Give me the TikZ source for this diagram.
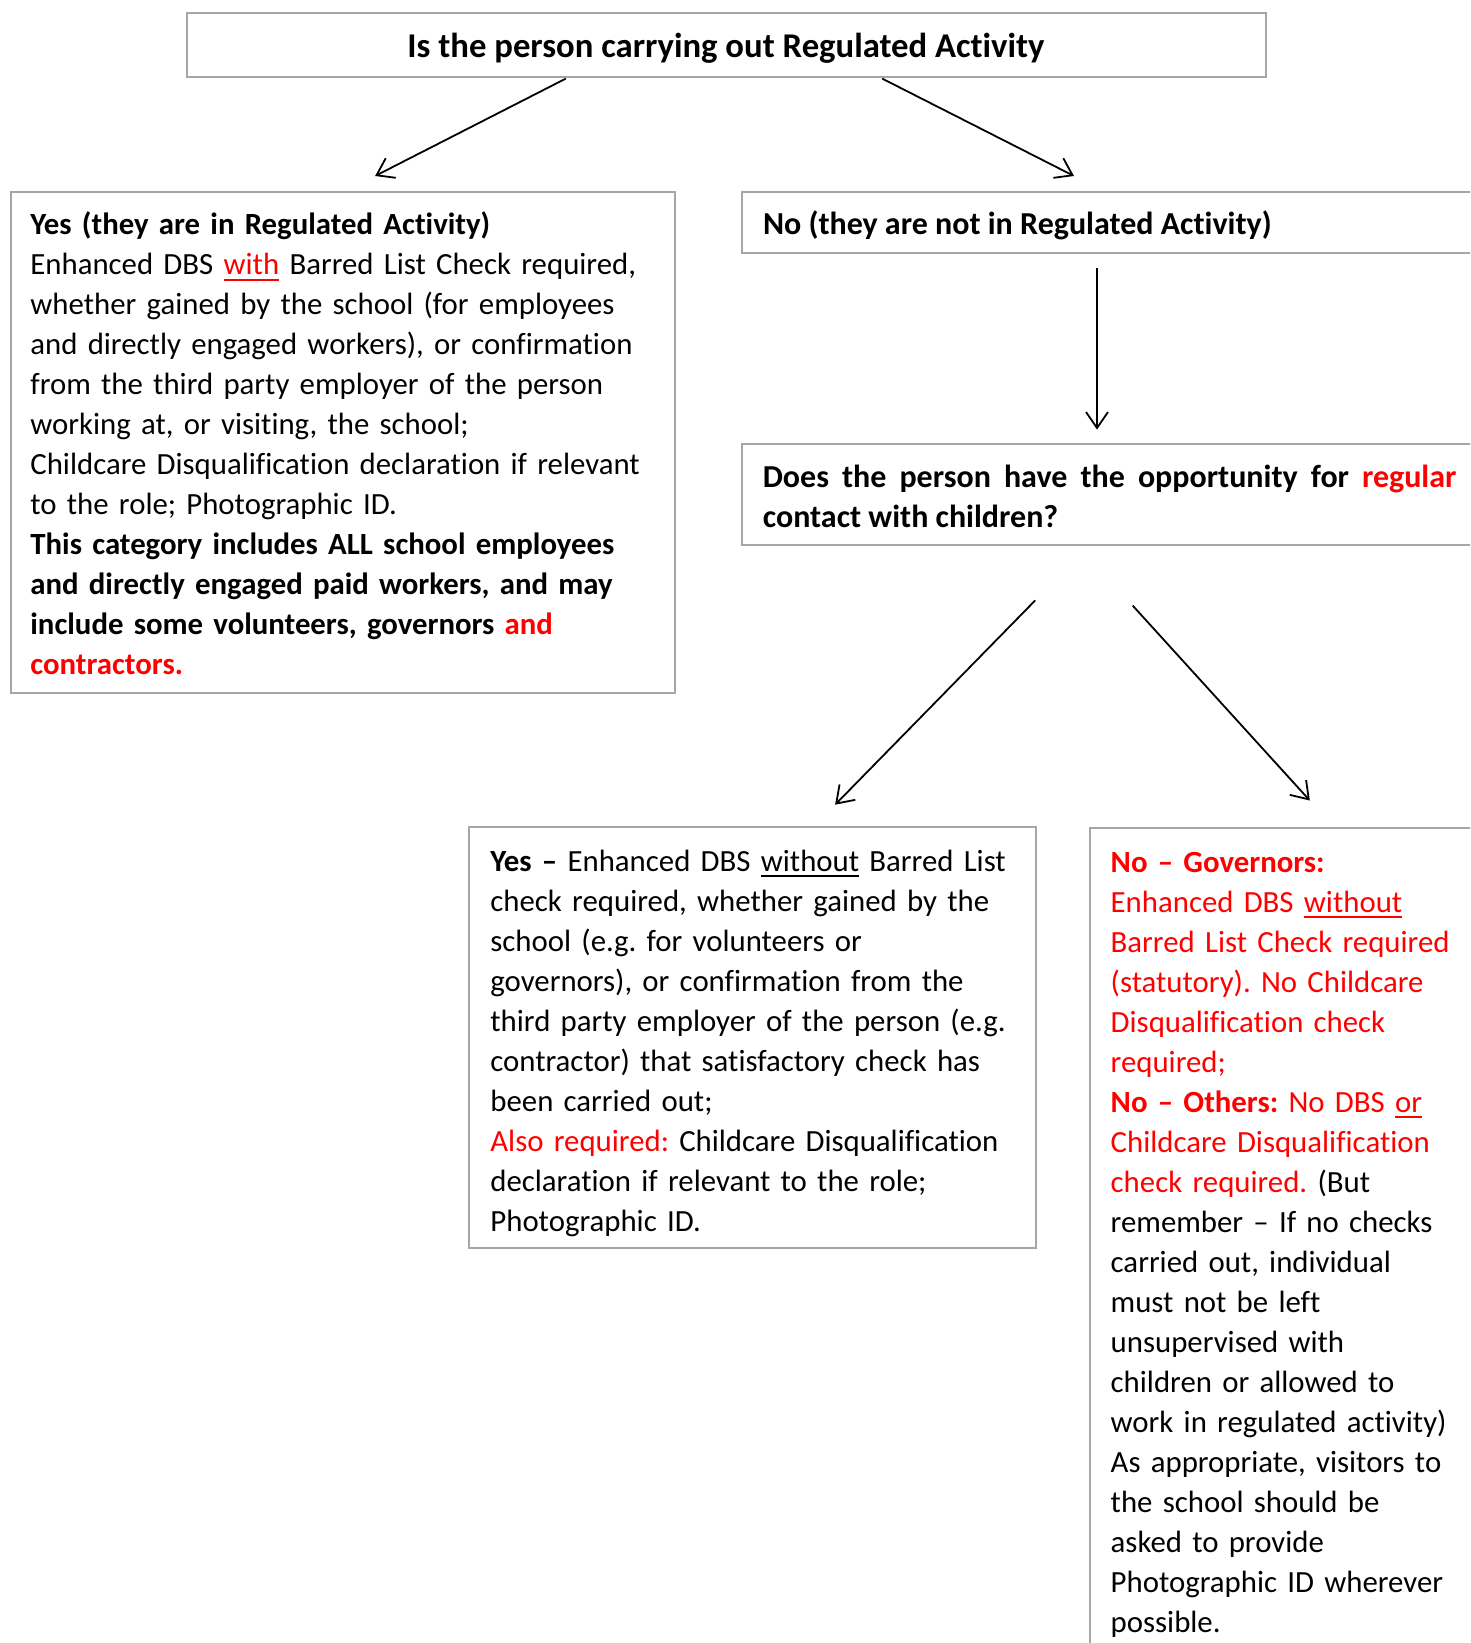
\documentclass[tikz,border=0pt]{standalone}
\usepackage{fontspec}
\setmainfont[Ligatures={TeX,NoCommon}]{Carlito}
\usetikzlibrary{arrows.meta}
\definecolor{boxgray}{HTML}{A6A6A6}
\definecolor{myred}{HTML}{FF0000}
\newcommand\myul[1]{\setbox0\hbox{#1}\rlap{\rule[-6pt]{\wd0}{2pt}}\box0\relax}
\newcommand\R[1]{\textcolor{myred}{#1}}
\frenchspacing
\tikzset{
  boxnode/.style={draw=boxgray, line width=2pt, rectangle, inner sep=0pt, outer sep=0pt, anchor=north west},
  txt/.style={inner sep=0pt, outer sep=0pt, anchor=north west, align=left, text width=#1, font=\fontsize{30.8}{40}\selectfont\frenchspacing},
  conn/.style={line width=1.8pt, -{Straight Barb[length=16pt,width=22pt,line width=1.8pt]}},
}
\begin{document}
\begin{tikzpicture}[x=1pt,y=-1pt]
\useasboundingbox (0,0) rectangle (1470,1643);
\clip (0,0) rectangle (1470,1643);
% boxes
\node[boxnode, minimum width=1079pt, minimum height=64pt] (top) at (186.5,12.6) {};
\node[boxnode, minimum width=664pt, minimum height=501pt] (yesA) at (10.5,191.7) {};
\node[boxnode, minimum width=740pt, minimum height=61pt] (noA) at (742,191.7) {};
\node[boxnode, minimum width=740pt, minimum height=101pt] (does) at (742,444.3) {};
\node[boxnode, minimum width=567pt, minimum height=421pt] (yesB) at (469.4,826.7) {};
\node[boxnode, minimum width=400pt, minimum height=840pt] (noB) at (1089.7,827.8) {};
% texts
\node[inner sep=0pt, anchor=base, font=\fontsize{34.7}{40}\selectfont\bfseries] (toptext) at (726,58) {Is the person carrying out Regulated Activity};
\node[txt=700pt] (yesAtext) at (30.4,204.5) {\rule{0pt}{30pt}\textbf{Yes (they are in Regulated Activity)}\\
Enhanced DBS \R{\myul{with}} Barred List Check required,\\
whether gained by the school (for employees\\
and directly engaged workers), or confirmation\\
from the third party employer of the person\\
working at, or visiting, the school;\\
Childcare Disqualification declaration if relevant\\
to the role; Photographic ID.\\
\textbf{This category includes ALL school employees}\\
\textbf{and directly engaged paid workers, and may}\\
\textbf{include some volunteers, governors \R{and}}\\
\R{\textbf{contractors.}}};
\node[inner sep=0pt, anchor=base west, font=\fontsize{32}{40}\selectfont\bfseries] (noAtext) at (762.8,234) {No (they are not in Regulated Activity)};
\node[txt=693.7pt, align=justify, font=\fontsize{32}{40}\selectfont\frenchspacing] (doestext) at (762.8,457) {\rule{0pt}{30pt}\textbf{Does the person have the opportunity for \R{regular}\linebreak contact with children?}};
\node[txt=600pt] (yesBtext) at (490.4,841) {\rule{0pt}{30pt}\textbf{Yes –} Enhanced DBS \myul{without} Barred List\\
check required, whether gained by the\\
school (e.g. for volunteers or\\
governors), or confirmation from the\\
third party employer of the person (e.g.\\
contractor) that satisfactory check has\\
been carried out;\\
\R{Also required:} Childcare Disqualification\\
declaration if relevant to the role;\\
Photographic ID.};
\node[txt=420pt] (noBtext) at (1110.7,842) {\rule{0pt}{30pt}\R{\textbf{No – Governors:}}\\
\R{Enhanced DBS \myul{without}}\\
\R{Barred List Check required}\\
\R{(statutory). No Childcare}\\
\R{Disqualification check}\\
\R{required;}\\
\R{\textbf{No – Others:} No DBS \myul{or}}\\
\R{Childcare Disqualification}\\
\R{check required.} (But\\
remember – If no checks\\
carried out, individual\\
must not be left\\
unsupervised with\\
children or allowed to\\
work in regulated activity)\\
As appropriate, visitors to\\
the school should be\\
asked to provide\\
Photographic ID wherever\\
possible.};
% connectors
\coordinate (a1s) at (565.8,78.6);
\coordinate (a1e) at (375.1,176);
\coordinate (a2s) at (882.2,78.6);
\coordinate (a2e) at (1074,176);
\coordinate (a3s) at (1097,268.2);
\coordinate (a3e) at (1097,429.6);
\coordinate (a4s) at (1035.2,600.4);
\coordinate (a4e) at (835.1,804.7);
\coordinate (a5s) at (1132.7,605.6);
\coordinate (a5e) at (1309.8,800.5);
\draw[conn] (a1s) -- (a1e);
\draw[conn] (a2s) -- (a2e);
\draw[conn] (a3s) -- (a3e);
\draw[conn] (a4s) -- (a4e);
\draw[conn] (a5s) -- (a5e);
\end{tikzpicture}
\end{document}
